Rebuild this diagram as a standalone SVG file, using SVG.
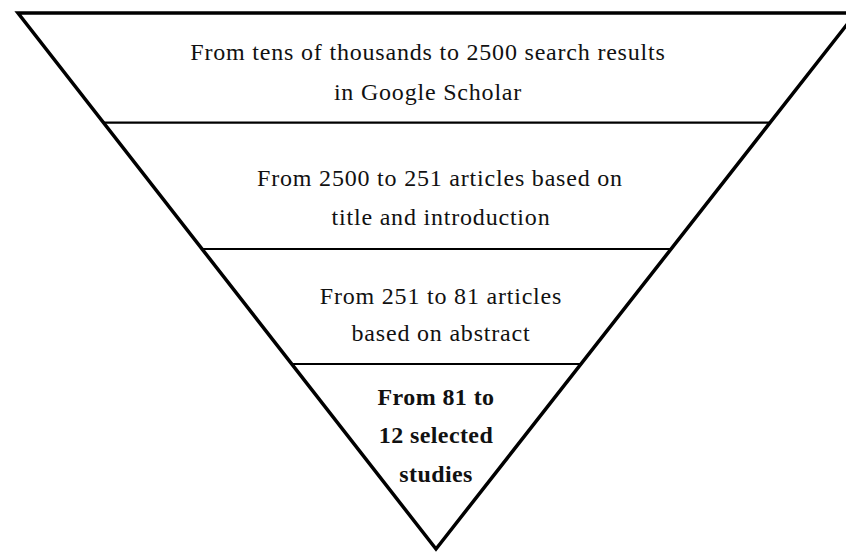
<svg xmlns="http://www.w3.org/2000/svg" width="846" height="552" viewBox="0 0 846 552">
<style>
.t{font-family:"Liberation Serif","DejaVu Serif",serif;font-size:24px;letter-spacing:0.8px;fill:#111;text-anchor:middle}
.b{font-weight:bold;letter-spacing:0.4px}
.edge{fill:none;stroke:#000;stroke-width:3.5;stroke-linejoin:miter}
.div{stroke:#000;stroke-width:2.2}
</style>
<rect width="846" height="552" fill="#fff"/>
<g id="connectors">
<polygon class="edge" points="18,13 856,13 436,549"/>
<line class="div" x1="104" y1="122.7" x2="770" y2="122.7"/>
<line class="div" x1="202" y1="249" x2="671" y2="249"/>
<line class="div" x1="292" y1="364" x2="582" y2="364"/>
</g>
<g id="level1">
<text class="t" x="428" y="60">From tens of thousands to 2500 search results</text>
<text class="t" x="428" y="100">in Google Scholar</text>
</g>
<g id="level2">
<text class="t" x="440" y="186">From 2500 to 251 articles based on</text>
<text class="t" x="441" y="225">title and introduction</text>
</g>
<g id="level3">
<text class="t" x="441" y="304">From 251 to 81 articles</text>
<text class="t" x="441" y="341">based on abstract</text>
</g>
<g id="level4">
<text class="t b" x="436" y="405">From 81 to</text>
<text class="t b" x="436" y="443">12 selected</text>
<text class="t b" x="436" y="482">studies</text>
</g>
</svg>
